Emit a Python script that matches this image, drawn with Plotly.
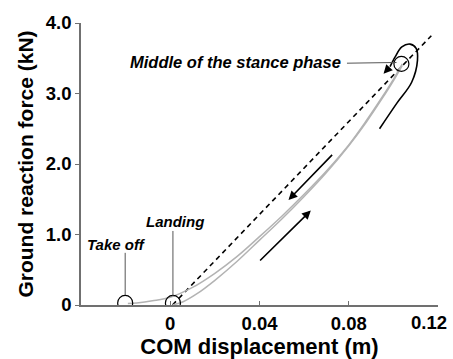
import plotly.graph_objects as go

# ---- data ----
load_x = [0.001, 0.006, 0.012, 0.02, 0.03, 0.04, 0.05, 0.06, 0.07, 0.08, 0.088, 0.095, 0.1, 0.104]
load_y = [0.0, 0.05, 0.16, 0.35, 0.62, 0.92, 1.22, 1.54, 1.88, 2.26, 2.6, 2.93, 3.18, 3.40]

unload_x = [0.104, 0.1, 0.095, 0.088, 0.08, 0.07, 0.06, 0.05, 0.04, 0.03, 0.02, 0.01, 0.0, -0.008, -0.015, -0.019]
unload_y = [3.42, 3.20, 2.95, 2.62, 2.27, 1.90, 1.57, 1.26, 0.97, 0.69, 0.45, 0.25, 0.11, 0.06, 0.03, 0.02]

spring_x = [0.001, 0.117]
spring_y = [0.0, 3.82]

hook_x = [0.0938, 0.1015, 0.1082, 0.1108, 0.1102, 0.1075, 0.1038, 0.1008, 0.0985]
hook_y = [2.50, 2.86, 3.16, 3.47, 3.64, 3.70, 3.66, 3.52, 3.38]
hook_tip = (0.0956, 3.28)

events_x = [-0.0202, 0.0012, 0.1036]
events_y = [0.03, 0.03, 3.42]
event_names = ["Take off", "Landing", "Middle of the stance phase"]

arrow_down = ((0.0732, 2.15), (0.0530, 1.49))  # start, tip
arrow_up = ((0.0396, 0.61), (0.0630, 1.34))

x_ticks = [0, 0.04, 0.08, 0.12]
x_ticklabels = ["0", "0.04", "0.08", "0.12"]
y_ticks = [0, 1, 2, 3, 4]
y_ticklabels = ["0", "1.0", "2.0", "3.0", "4.0"]

FONT = "Liberation Sans, Arial, sans-serif"
GRAY = "#b3b3b3"
AX = "#707070"
TICKFONT = dict(family=FONT, size=18.5, color="black", weight="bold")

fig = go.Figure()
fig.add_trace(go.Scatter(x=spring_x, y=spring_y, mode="lines",
                         line=dict(color="black", width=1.6, dash="5px,4px"), hoverinfo="skip"))
fig.add_trace(go.Scatter(x=unload_x, y=unload_y, mode="lines", line_shape="spline",
                         line=dict(color=GRAY, width=1.5), hoverinfo="skip"))
fig.add_trace(go.Scatter(x=load_x, y=load_y, mode="lines", line_shape="spline",
                         line=dict(color=GRAY, width=1.5), hoverinfo="skip"))
fig.add_trace(go.Scatter(x=hook_x, y=hook_y, mode="lines", line_shape="spline",
                         line=dict(color="black", width=1.6), hoverinfo="skip"))
fig.add_trace(go.Scatter(x=events_x, y=events_y, mode="markers",
                         marker=dict(symbol="circle-open", size=15, color="black",
                                     line=dict(width=1.2, color="black")),
                         hoverinfo="skip"))

def arrow(start, tip):
    fig.add_annotation(x=tip[0], y=tip[1], ax=start[0], ay=start[1],
                       xref="x", yref="y", axref="x", ayref="y", text="",
                       showarrow=True, arrowhead=2, arrowsize=1.1, arrowwidth=1.6,
                       arrowcolor="black")

arrow(*arrow_down)
arrow(*arrow_up)
arrow((hook_x[-1], hook_y[-1]), hook_tip)

# connectors
fig.add_shape(type="line", x0=events_x[0], x1=events_x[0], y0=0.14, y1=0.74,
              line=dict(color="#555555", width=1))
fig.add_shape(type="line", x0=events_x[1], x1=events_x[1], y0=0.13, y1=1.05,
              line=dict(color="#555555", width=1))
fig.add_shape(type="line", x0=0.0792, x1=events_x[2] - 0.0022, y0=3.43, y1=3.44,
              line=dict(color="#555555", width=1))

lab_font = dict(family=FONT, size=15, color="black")
fig.add_annotation(x=-0.0242, y=0.86, xref="x", yref="y", text="<b><i>" + event_names[0] + "</i></b>",
                   showarrow=False, font=lab_font)
fig.add_annotation(x=0.0022, y=1.18, xref="x", yref="y", text="<b><i>" + event_names[1] + "</i></b>",
                   showarrow=False, font=lab_font)
fig.add_annotation(x=0.0775, y=3.44, xref="x", yref="y", text="<b><i>" + event_names[2] + "</i></b>",
                   showarrow=False, xanchor="right", font=dict(family=FONT, size=16.5, color="black"))

# last x tick label: shifted left so it stays inside the picture (as in the reference)
fig.add_annotation(x=x_ticks[-1], y=0, xref="x", yref="paper", yanchor="top", yshift=-5,
                   xanchor="right", xshift=11, text=x_ticklabels[-1], showarrow=False,
                   font=TICKFONT)

fig.update_xaxes(range=[-0.04, 0.12], tickvals=x_ticks,
                 ticktext=x_ticklabels[:-1] + [""],
                 showline=True, linecolor=AX, linewidth=1.5, ticks="inside", ticklen=4,
                 tickcolor=AX, showgrid=False, zeroline=False, automargin=False,
                 ticklabelstandoff=1,
                 tickfont=TICKFONT,
                 title=dict(text="COM displacement (m)", standoff=9,
                            font=dict(family=FONT, size=22, color="black", weight="bold")))
fig.update_yaxes(range=[0, 4.0], tickvals=y_ticks, ticktext=y_ticklabels,
                 showline=True, linecolor=AX, linewidth=1.5, ticks="outside", ticklen=4,
                 tickcolor=AX, showgrid=False, zeroline=False, automargin=False,
                 tickfont=TICKFONT,
                 title=dict(text="Ground reaction force (kN)", standoff=6,
                            font=dict(family=FONT, size=21, color="black", weight="bold")))

fig.update_layout(template="none", width=453, height=359, autosize=False,
                  margin=dict(l=81, r=15, t=23, b=54),
                  plot_bgcolor="white", paper_bgcolor="white", showlegend=False)

fig.write_html("out.html", config={"displayModeBar": False},
               post_script="document.body.style.margin='0';")
